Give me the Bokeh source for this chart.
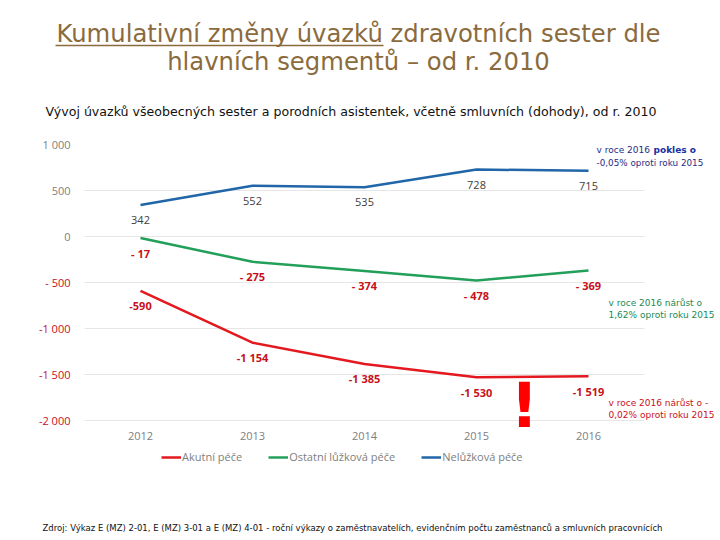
from bokeh.plotting import figure
from bokeh.models import (ColumnDataSource, LabelSet, Label, Legend, LegendItem)
from bokeh.core.properties import value
from bokeh.embed import file_html
from bokeh.resources import INLINE

# ---------------- data ----------------
years = [2012, 2013, 2014, 2015, 2016]
akutni = [-590, -1154, -1385, -1530, -1519]
ostatni = [-17, -275, -374, -478, -369]
neluzkova = [342, 552, 535, 728, 715]
y_ticks = [1000, 500, 0, -500, -1000, -1500, -2000]
y_tick_labels = ["1 000", "500", "0", "- 500", "-1 000", "-1 500", "-2 000"]
x_tick_labels = ["2012", "2013", "2014", "2015", "2016"]
series_names = ["Akutní péče", "Ostatní lůžková péče", "Nelůžková péče"]

RED = "#e3191f"
GREEN = "#22a05a"
BLUE = "#2066a8"
LABEL_RED = "#c8101a"
GRAY = "#808080"
BROWN = "#8b6b3d"

# plot-area geometry (page pixels) and its data extent
FX0, FX1, FY0, FY1 = 84, 644, 144, 420
XMIN, XMAX, YMIN, YMAX = 2011.5, 2016.5, -2000, 1000
def dx(X):
    return XMIN + (X - FX0) * (XMAX - XMIN) / (FX1 - FX0)
def dy(Y):
    return YMAX - (Y - FY0) * (YMAX - YMIN) / (FY1 - FY0)

W, H = 720, 540
p = figure(width=W, height=H, output_backend="svg", toolbar_location=None,
           x_range=(dx(0), dx(W)), y_range=(dy(H), dy(0)),
           min_border=0)
p.outline_line_color = None
p.background_fill_color = "white"
p.border_fill_color = "white"
p.xaxis.visible = False
p.yaxis.visible = False
p.grid.visible = False

F = value("Open Sans")

# grid lines (skip the top one)
grid_ticks = [t for t in y_ticks if t != YMAX]
p.segment(x0=[XMIN] * len(grid_ticks), x1=[XMAX] * len(grid_ticks),
          y0=grid_ticks, y1=grid_ticks, line_color="#e6e6e6", line_width=1)

# y tick labels (coloured by sign)
tick_src = ColumnDataSource(dict(
    x=[XMIN] * len(y_ticks), y=y_ticks, text=y_tick_labels,
    color=[GRAY if t >= 0 else LABEL_RED for t in y_ticks]))
p.add_layout(LabelSet(x="x", y="y", text="text", source=tick_src, x_offset=-14,
                      text_align="right", text_baseline="middle",
                      text_font=F, text_font_size=value("11px"),
                      text_color="color"))

# x tick labels
xt_src = ColumnDataSource(dict(x=years, y=[YMIN] * len(years), text=x_tick_labels))
p.add_layout(LabelSet(x="x", y="y", text="text", source=xt_src, y_offset=-15,
                      text_align="center", text_baseline="middle",
                      text_font=F, text_font_size=value("11px"),
                      text_color=GRAY))

# lines
r_red = p.line(years, akutni, line_color=RED, line_width=2.5)
r_green = p.line(years, ostatni, line_color=GREEN, line_width=2.5)
r_blue = p.line(years, neluzkova, line_color=BLUE, line_width=2.5)

def fmt(v):
    return f"{abs(v):,}".replace(",", " ")

lab_blue = [fmt(v) for v in neluzkova]
lab_green = ["- " + fmt(v) for v in ostatni]
lab_red = ["-" + fmt(v) for v in akutni]

for vals, labs, col, weight in [(neluzkova, lab_blue, "#404040", "normal"),
                                (ostatni, lab_green, LABEL_RED, "bold"),
                                (akutni, lab_red, LABEL_RED, "bold")]:
    src = ColumnDataSource(dict(x=years, y=vals, text=labs))
    p.add_layout(LabelSet(x="x", y="y", text="text", source=src, y_offset=-15,
                          text_align="center", text_baseline="middle",
                          text_font=F, text_font_size=value("11px"),
                          text_font_style=value(weight), text_color=col))

# legend
legend = Legend(items=[LegendItem(label=series_names[0], renderers=[r_red]),
                       LegendItem(label=series_names[1], renderers=[r_green]),
                       LegendItem(label=series_names[2], renderers=[r_blue])],
                orientation="horizontal", location=(161, 76),
                label_text_font="Open Sans", label_text_font_size="11px",
                label_text_color=GRAY, glyph_width=20, glyph_height=10,
                label_standoff=1, spacing=26, border_line_color=None,
                background_fill_alpha=0, padding=0, margin=0)
p.add_layout(legend, "center")

def lab(X, Y, text, size, color, font="DejaVu Sans", style="normal",
        align="left", baseline="middle"):
    p.add_layout(Label(x=dx(X), y=dy(Y), text=text, text_font=font,
                       text_font_size=size, text_color=color,
                       text_font_style=style, text_align=align,
                       text_baseline=baseline))

# title
lab(358, 33, "Kumulativní změny úvazků zdravotních sester dle", "24.3px", BROWN, align="center")
lab(358, 61, "hlavních segmentů – od r. 2010", "24.3px", BROWN, align="center")
p.segment(x0=[dx(55)], x1=[dx(383)], y0=[dy(45)], y1=[dy(45)],
          line_color=BROWN, line_width=1.5)
lab(45, 111, "Vývoj úvazků všeobecných sester a porodních asistentek, včetně smluvních (dohody), od r. 2010",
    "12.6px", "#111111")
lab(42, 527, "Zdroj: Výkaz E (MZ) 2-01, E (MZ) 3-01 a E (MZ) 4-01 - roční výkazy o zaměstnavatelích, evidenčním počtu zaměstnanců a smluvních pracovnících",
    "8.5px", "#111111")

# right-side notes
NAVY = "#1f2d86"
lab(596, 149, "v roce 2016", "9px", NAVY)
lab(653, 149, "pokles o", "9px", "#1a2fa0", style="bold")
lab(596, 162, "-0,05% oproti roku 2015", "8.8px", NAVY)
NGREEN = "#1a8a55"
lab(608, 302, "v roce 2016 nárůst o", "9px", NGREEN)
lab(608, 314, "1,62% oproti roku 2015", "9px", NGREEN)
lab(608, 402, "v roce 2016 nárůst o -", "9px", LABEL_RED)
lab(608, 414, "0,02% oproti roku 2015", "9px", LABEL_RED)

# exclamation mark
lab(524, 405, "!", "62px", "#ff0000", style="bold", align="center")

open("out.html", "w").write(file_html(p, INLINE))
